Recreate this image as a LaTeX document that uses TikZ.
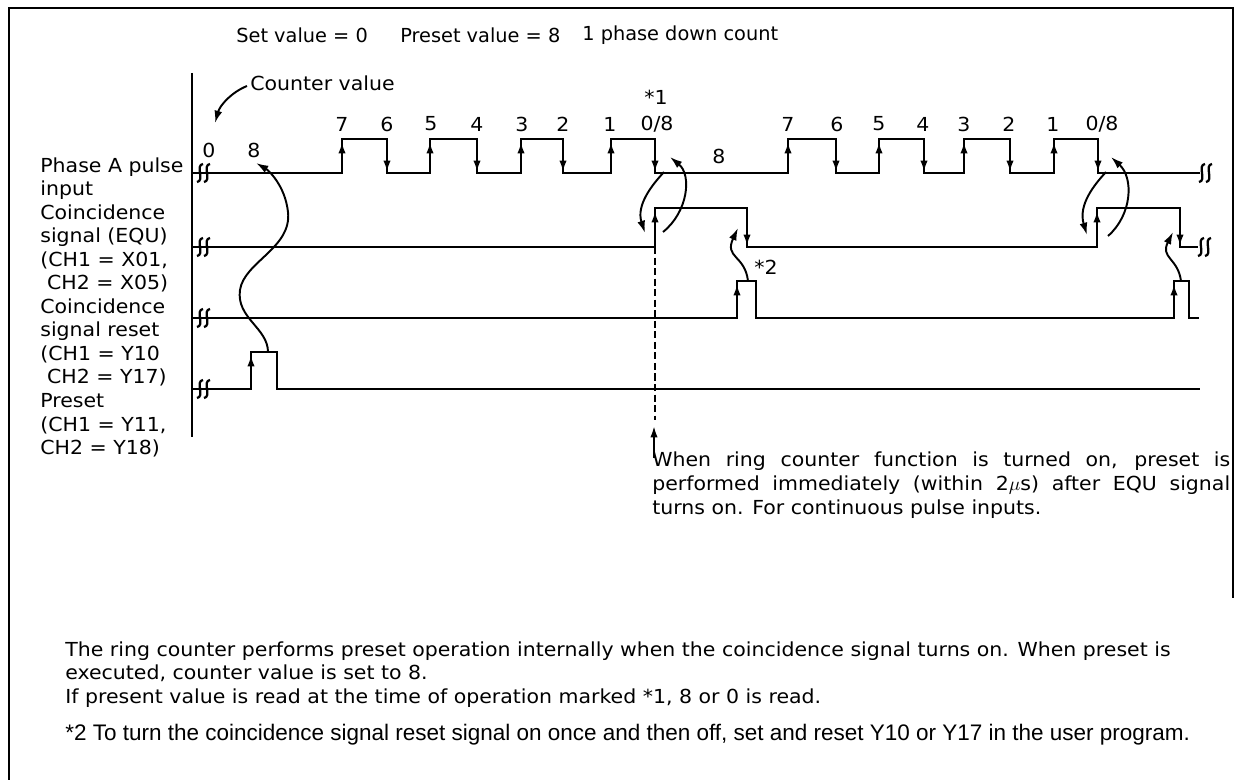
\documentclass[tikz,border=0pt]{standalone}
\usepackage{fontspec}
\setmainfont{DejaVu Sans}[FakeStretch=1.06]
\newfontfamily\titlefont{DejaVu Sans}
\newfontfamily\notefont{Liberation Sans}
\usepackage{tikz}
\usetikzlibrary{arrows.meta}

% break mark on a signal line
\newcommand{\brkmark}[2]{%
  \foreach \dx in {0,7} {
    \draw[brk] ({#1+\dx-3},{#2+9}) .. controls ({#1+\dx+5},{#2+8}) and ({#1+\dx-5},{#2-8}) .. ({#1+\dx+3},{#2-9});
  }}

\begin{document}
\begin{tikzpicture}[
    x=0.02cm, y=-0.02cm,
    wave/.style={line width=1.3pt, line join=miter},
    edgearrow/.style={line width=1.3pt, -{Latex[length=6.5pt,width=4.2pt]}},
    curvearrow/.style={line width=1.1pt, -{Latex[length=7pt,width=4.5pt]}},
    brk/.style={line width=1.3pt},
    lbl/.style={font=\fontsize{11}{13.4}\selectfont, inner sep=0pt},
    ttl/.style={font=\titlefont\fontsize{11}{13}\selectfont, inner sep=0pt},
  ]
    \useasboundingbox (0,0) rectangle (1235,780);

    % Frame
    \draw[line width=1pt] (1233,598) -- (1233,8) -- (9,8) -- (9,780);

    % Title
    \node[ttl, anchor=west] (setv) at (236,35) {Set value = 0};
    \node[ttl, anchor=west] (presetv) at (400,35) {Preset value = 8};
    \node[ttl, anchor=west] (mode) at (582,35) {1 phase down count};

    % Signal names
    \node[lbl, anchor=north west, align=left] (names) at (40,157)
         {Phase A pulse\\input\\Coincidence\\signal (EQU)\\(CH1 = X01,\\\hspace{0.35em}CH2 = X05)\\
          Coincidence\\signal reset\\(CH1 = Y10\\\hspace{0.35em}CH2 = Y17)\\Preset\\(CH1 = Y11,\\CH2 = Y18)};

    % Time axis
    \draw[line width=1.2pt] (192,73) -- (192,437);

    % Phase A pulse input
    \draw[wave] (192,173)
      foreach \r/\f in {342/387,430/477,521/563,611/655,788/836,879/924,964/1010,1054/1098}
        { -- (\r,173) -- (\r,139) -- (\f,139) -- (\f,173) } -- (1200,173);
    \foreach \r/\f in {342/387,430/477,521/563,611/655,788/836,879/924,964/1010,1054/1098} {
      \draw[edgearrow] (\r,173) -- (\r,142);
      \draw[edgearrow] (\f,139) -- (\f,172);
    }

    % Coincidence signal (EQU)
    \draw[wave] (192,247) -- (655,247) -- (655,208) -- (747,208) -- (747,247)
      -- (1097,247) -- (1097,208) -- (1180,208) -- (1180,247) -- (1198,247);
    \draw[edgearrow] (655,247) -- (655,211);
    \draw[edgearrow] (1097,247) -- (1097,211);
    \draw[edgearrow] (747,208) -- (747,246);
    \draw[edgearrow] (1180,208) -- (1180,246);

    % Coincidence signal reset
    \draw[wave] (192,318) -- (737,318) -- (737,281) -- (756,281) -- (756,318)
      -- (1174,318) -- (1174,281) -- (1189,281) -- (1189,318) -- (1199,318);
    \draw[edgearrow] (737,318) -- (737,284);
    \draw[edgearrow] (1174,318) -- (1174,284);

    % Preset
    \draw[wave] (192,389) -- (251,389) -- (251,352) -- (277,352) -- (277,389) -- (1200,389);
    \draw[edgearrow] (251,389) -- (251,355);

    % Break marks
    \brkmark{200}{173}
    \brkmark{200}{247}
    \brkmark{200}{318}
    \brkmark{200}{389}
    \brkmark{1202}{173}
    \brkmark{1201}{247}

    % Counter values
    \node[lbl] (c0) at (209,150) {0};
    \node[lbl] (c8) at (254,150) {8};
    \foreach \x/\t in {342/7,387/6,431/5,477/4,522/3,563/2,610/1,788/7,837/6,879/5,923/4,964/3,1009/2,1053/1}
      \node[lbl] at (\x,124) {\t};
    \node[lbl] (z1) at (657,124) {0/8};
    \node[lbl] (z2) at (1102,124) {0/8};
    \node[lbl] (mid8) at (719,156) {8};
    \node[lbl] (star1) at (656,97) {*1};
    \node[lbl] (star2) at (766,267) {*2};

    \node[lbl, anchor=west] (cval) at (250,83) {Counter value};
    \draw[curvearrow] (247,86) .. controls (232,92) and (220,105) .. (215,123);

    % Preset -> counter value 8
    \draw[curvearrow] (268,352) .. controls (268,328) and (236,318) .. (240,290)
      .. controls (244,262) and (292,248) .. (288,212)
      .. controls (285,185) and (268,170) .. (256,163);

    % Count 0 -> EQU on -> preset
    \draw[curvearrow] (664,172) .. controls (652,185) and (636,205) .. (645,233);
    \draw[curvearrow] (663,232) .. controls (688,212) and (692,175) .. (670,157);
    \draw[curvearrow] (1106,172) .. controls (1094,185) and (1078,205) .. (1087,235);
    \draw[curvearrow] (1108,236) .. controls (1132,215) and (1134,178) .. (1111,157);

    % Reset -> EQU off
    \draw[curvearrow] (748,281) .. controls (745,255) and (724,258) .. (738,228);
    \draw[curvearrow] (1181,281) .. controls (1178,258) and (1160,258) .. (1173,232);

    % Preset timing
    \draw[line width=1.1pt, dash pattern=on 4pt off 2pt] (655,247) -- (655,420);
    \draw[edgearrow, line width=1.1pt] (654,458) -- (654,426);
    \node[lbl, anchor=base west, text width=11.56cm, align=justify] (ring) at (652,467)
         {When ring counter function is turned on, preset is\linebreak
          performed immediately (within 2$\mu$s) after EQU signal\linebreak
          turns on. For continuous pulse inputs.};

    % Notes
    \node[lbl, anchor=north west, align=left] (note1) at (65,641)
         {The ring counter performs preset operation internally when the coincidence signal turns on. When preset is\\
          executed, counter value is set to 8.\\
          If present value is read at the time of operation marked *1, 8 or 0 is read.};
    \node[anchor=base west, inner sep=0pt, font=\notefont\fontsize{12.8}{14}\selectfont] (note2) at (65,740)
         {*2 To turn the coincidence signal reset signal on once and then off, set and reset Y10 or Y17 in the user program.};
\end{tikzpicture}
\end{document}
